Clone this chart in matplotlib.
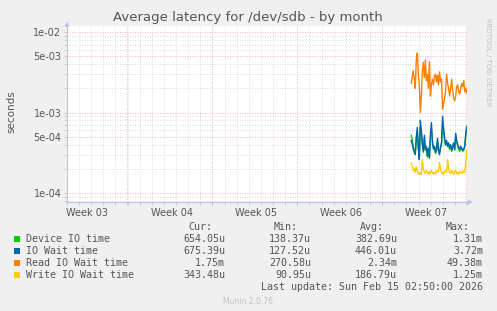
import numpy as np
import matplotlib
matplotlib.use("Agg")
import matplotlib.pyplot as plt
from matplotlib.ticker import FixedLocator, NullFormatter

W, H = 497, 311

# sample times: 2-hour samples, in days since start of the 33-day window
t0 = 28.4
step_h = 2.0

device_io = [5.2e-4, 4.6e-4, 3.8e-4, 3.4e-4, 3.1e-4, 4.6e-4, 5.8e-4, 3.5e-4, 2.7e-4, 6.5e-4,
             5.6e-4, 4.1e-4, 3.2e-4, 4.8e-4, 3.4e-4, 3.6e-4, 2.8e-4, 3.4e-4, 2.8e-4, 5.0e-4,
             6.0e-4, 4.5e-4, 3.6e-4, 3.7e-4, 3.1e-4, 3.4e-4, 4.4e-4, 3.3e-4, 3.1e-4, 3.6e-4,
             4.0e-4, 7.0e-4, 5.8e-4, 4.6e-4, 3.9e-4, 4.2e-4, 3.9e-4, 4.0e-4, 3.5e-4, 3.8e-4,
             3.3e-4, 3.6e-4, 4.0e-4, 3.4e-4, 5.0e-4, 4.3e-4, 3.8e-4, 3.5e-4, 3.3e-4, 3.6e-4,
             3.5e-4, 3.3e-4, 3.4e-4, 3.7e-4, 5.2e-4, 6.54e-4]
io_wait = [4.5e-4, 4.0e-4, 3.5e-4, 3.2e-4, 3.0e-4, 5.0e-4, 6.5e-4, 3.8e-4, 2.6e-4, 8.0e-4,
           6.0e-4, 4.0e-4, 3.3e-4, 5.2e-4, 3.5e-4, 3.8e-4, 2.9e-4, 3.6e-4, 2.7e-4, 5.5e-4,
           7.5e-4, 4.2e-4, 3.5e-4, 3.8e-4, 3.2e-4, 3.6e-4, 4.8e-4, 3.4e-4, 3.0e-4, 3.8e-4,
           4.2e-4, 9.0e-4, 6.5e-4, 4.8e-4, 4.0e-4, 4.5e-4, 3.8e-4, 4.2e-4, 3.6e-4, 4.0e-4,
           3.4e-4, 3.8e-4, 4.2e-4, 3.5e-4, 5.5e-4, 4.5e-4, 4.0e-4, 3.7e-4, 3.5e-4, 3.8e-4,
           3.6e-4, 3.4e-4, 3.5e-4, 3.9e-4, 5.5e-4, 6.75e-4]
read_wait = [2.3e-3, 2.8e-3, 3.3e-3, 2.6e-3, 2.0e-3, 4.5e-3, 5.5e-3, 3.0e-3, 2.2e-3, 1.0e-3,
             1.6e-3, 3.2e-3, 4.2e-3, 2.7e-3, 4.5e-3, 2.5e-3, 3.0e-3, 2.0e-3, 4.3e-3, 1.6e-3,
             2.2e-3, 2.6e-3, 2.2e-3, 2.8e-3, 3.0e-3, 2.4e-3, 2.9e-3, 2.2e-3, 3.2e-3, 2.4e-3,
             2.6e-3, 1.1e-3, 1.3e-3, 1.5e-3, 1.8e-3, 3.0e-3, 2.3e-3, 2.0e-3, 1.6e-3, 2.0e-3,
             2.6e-3, 1.9e-3, 1.5e-3, 1.4e-3, 1.6e-3, 2.1e-3, 2.2e-3, 1.8e-3, 1.7e-3, 2.0e-3,
             2.3e-3, 2.1e-3, 2.5e-3, 1.8e-3, 2.0e-3, 1.75e-3]
write_wait = [2.35e-4, 2.2e-4, 1.9e-4, 2.0e-4, 1.8e-4, 2.1e-4, 1.9e-4, 1.75e-4, 1.7e-4, 1.8e-4,
              1.7e-4, 2.6e-4, 2.0e-4, 1.8e-4, 1.75e-4, 1.9e-4, 1.8e-4, 1.7e-4, 1.85e-4, 1.75e-4,
              1.9e-4, 1.8e-4, 1.7e-4, 1.8e-4, 1.75e-4, 1.9e-4, 1.8e-4, 1.85e-4, 2.4e-4, 2.0e-4,
              1.75e-4, 1.8e-4, 1.7e-4, 1.85e-4, 1.9e-4, 1.8e-4, 2.6e-4, 2.0e-4, 1.8e-4, 1.75e-4,
              1.9e-4, 1.8e-4, 1.7e-4, 1.85e-4, 1.9e-4, 1.75e-4, 1.8e-4, 1.7e-4, 1.85e-4, 1.8e-4,
              1.75e-4, 1.9e-4, 1.8e-4, 1.8e-4, 2.4e-4, 3.43e-4]

names = ["Device IO time", "IO Wait time", "Read IO Wait time", "Write IO Wait time"]
colors = ["#00CC00", "#0066B3", "#FF8000", "#FFCC00"]
cur = ["654.05u", "675.39u", "1.75m", "343.48u"]
mins = ["138.37u", "127.52u", "270.58u", "90.95u"]
avgs = ["382.69u", "446.01u", "2.34m", "186.79u"]
maxs = ["1.31m", "3.72m", "49.38m", "1.25m"]

week_lines = [4.98, 11.98, 18.98, 25.98, 32.95]
week_labels = ["Week 03", "Week 04", "Week 05", "Week 06", "Week 07"]
y_major = [1e-4, 5e-4, 1e-3, 5e-3, 1e-2]
y_labels = ["1e-04", "5e-04", "1e-03", "5e-03", "1e-02"]

TXT = "#555555"
fig = plt.figure(figsize=(W / 100, H / 100), dpi=100, facecolor="#F0F0F0")


def fx(px):
    return px / W


def fy(py):
    return 1 - py / H


ax = fig.add_axes([fx(67), fy(202), fx(467) - fx(67), (202 - 26) / H])
ax.set_facecolor("white")
ax.set_yscale("log")
ax.set_xlim(0, 33)
ax.set_ylim(10 ** -4.112, 10 ** -1.925)

# grid
days = np.arange(0, 34)
ax.xaxis.set_major_locator(FixedLocator(week_lines))
ax.xaxis.set_minor_locator(FixedLocator(days))
ax.xaxis.set_major_formatter(NullFormatter())
minor_y = [m * 10.0 ** e for e in (-5, -4, -3, -2) for m in range(2, 10)]
minor_y = [v for v in minor_y if v not in y_major]
ax.yaxis.set_major_locator(FixedLocator(y_major))
ax.yaxis.set_minor_locator(FixedLocator(minor_y))
ax.yaxis.set_minor_formatter(NullFormatter())
ax.set_yticklabels(y_labels)
ax.grid(which="minor", color="#D0D0D0", linestyle=(0, (1, 2)), linewidth=0.6)
ax.grid(which="major", color="#F29A9A", linestyle=(0, (1, 2)), linewidth=0.6)
ax.set_axisbelow(True)
ax.tick_params(which="both", length=2, width=0.5, color="#BBBBBB", labelsize=7, labelcolor=TXT, pad=2)

for s in ["top", "right"]:
    ax.spines[s].set_visible(False)
for s in ["left", "bottom"]:
    ax.spines[s].set_color("#C0C0F0")
    ax.spines[s].set_linewidth(0.8)
    ax.spines[s].set_zorder(0.5)

# axis arrows
ax.annotate("", xy=(1.022, 0), xytext=(0.99, 0), xycoords="axes fraction",
            arrowprops=dict(arrowstyle="-|>", color="#C0C0F0", lw=0.8, mutation_scale=6),
            annotation_clip=False)
ax.annotate("", xy=(0, 1.04), xytext=(0, 0.99), xycoords="axes fraction",
            arrowprops=dict(arrowstyle="-|>", color="#C0C0F0", lw=0.8, mutation_scale=6),
            annotation_clip=False)

for w, lab in zip(week_lines, week_labels):
    ax.text(w - 3.35, -0.035, lab, transform=ax.get_xaxis_transform(), ha="center", va="top",
            fontsize=7, color=TXT)

t = t0 + np.arange(len(io_wait)) * step_h / 24.0
for vals, c in zip([device_io, io_wait, read_wait, write_wait], colors):
    ax.plot(t, vals, color=c, linewidth=1.0)

fig.text(fx(248), fy(18), "Average latency for /dev/sdb - by month", ha="center", va="center",
         fontsize=9.5, color=TXT)
fig.text(fx(11), fy(112), "seconds", rotation=90, ha="center", va="center", fontsize=7.5, color=TXT)
fig.text(fx(488), fy(62), "RRDTOOL / TOBI OETIKER", rotation=270, ha="center", va="center",
         fontsize=5, color="#C0C0C0")

mono = dict(family="DejaVu Sans Mono", fontsize=7.2, color=TXT)
for lab, px in zip(["Cur:", "Min:", "Avg:", "Max:"], [212, 298, 384, 470]):
    fig.text(fx(px), fy(227), lab, ha="right", va="center", **mono)
for i, name in enumerate(names):
    yy = fy(239 + 12 * i)
    fig.patches.append(plt.Rectangle((fx(14), yy - 3 / H), 6 / W, 6 / H, transform=fig.transFigure,
                                     facecolor=colors[i], edgecolor="none"))
    fig.text(fx(26), yy, name, ha="left", va="center", **mono)
    for col, px in zip([cur, mins, avgs, maxs], [225, 311, 397, 483]):
        fig.text(fx(px), yy, col[i], ha="right", va="center", **mono)
fig.text(fx(483), fy(287), "Last update: Sun Feb 15 02:50:00 2026", ha="right", va="center", **mono)
fig.text(fx(248), fy(301), "Munin 2.0.76", ha="center", va="center", fontsize=5.5, color="#C0C0C0")

fig.savefig("out.png", dpi=100, facecolor=fig.get_facecolor())
